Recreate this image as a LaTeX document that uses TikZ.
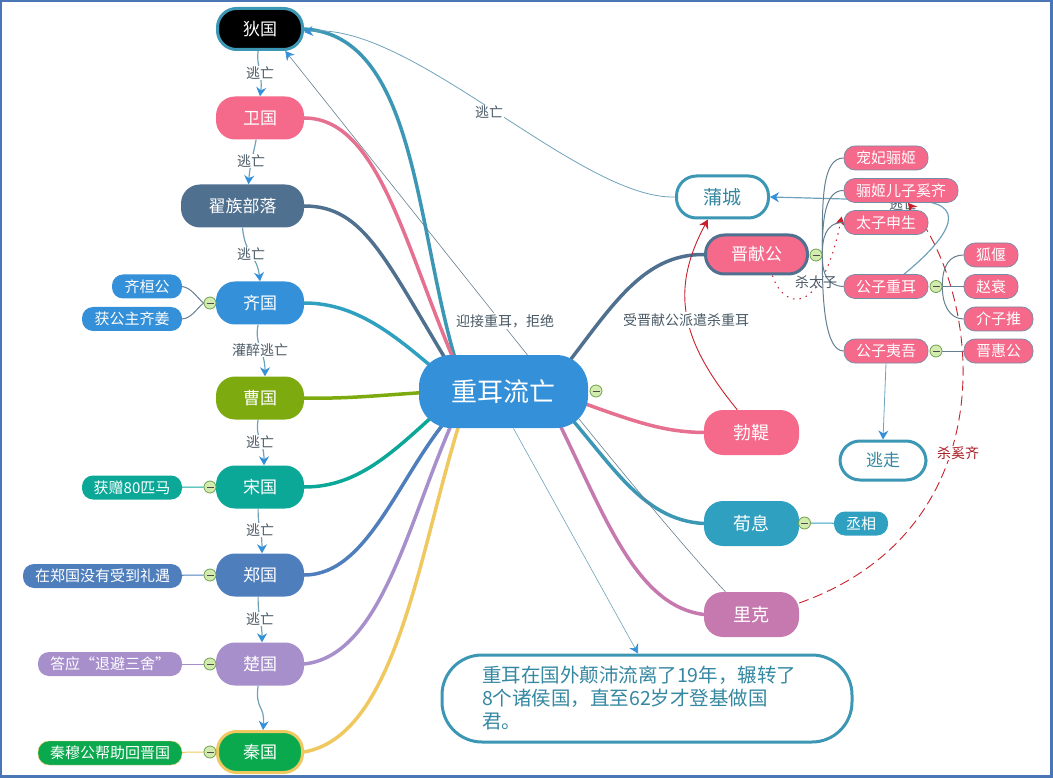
\documentclass[tikz,border=0pt]{standalone}
\usepackage{fontspec}
\setmainfont{Noto Sans CJK SC}
\usepackage{xcolor}
\usepackage{tikz}
\usetikzlibrary{arrows.meta, positioning, backgrounds}
\newcommand{\wcomma}{\symbol{"FF0C}}
\definecolor{framec}{HTML}{4A76B5}
\definecolor{pinkc}{HTML}{F5698A}
\definecolor{pinkl}{HTML}{E5708F}
\definecolor{slatec}{HTML}{50708F}
\definecolor{bluec}{HTML}{3490D8}
\definecolor{olivec}{HTML}{7DAB0F}
\definecolor{greenc}{HTML}{0BA898}
\definecolor{steelc}{HTML}{4E7EBB}
\definecolor{purplec}{HTML}{A78FCC}
\definecolor{leafc}{HTML}{0AA94E}
\definecolor{goldc}{HTML}{EFC85F}
\definecolor{tealc}{HTML}{30A0C0}
\definecolor{tealb}{HTML}{3B97B3}
\definecolor{mauvec}{HTML}{C679AE}
\definecolor{textc}{HTML}{4A5A66}
\definecolor{redc}{HTML}{C8202A}
\definecolor{linkc}{HTML}{6FA2BA}
\definecolor{twigc}{HTML}{667F90}
\definecolor{foldc}{HTML}{D4EBB0}
\definecolor{foldb}{HTML}{6FA050}

\begin{document}
\begin{tikzpicture}
  [
    x=1pt, y=-1pt,
    Pill/.style={rectangle, rounded corners=19pt, minimum width=88pt, minimum height=43pt, inner sep=0pt, text=white, font=\fontsize{17}{20}\selectfont},
    Big/.style={Pill, minimum width=95pt, minimum height=45pt, font=\fontsize{18}{21}\selectfont},
    Leaf/.style={rectangle, rounded corners=11pt, minimum height=24pt, inner sep=0pt, text=white, font=\fontsize{15}{18}\selectfont},
    Kid/.style={Leaf, fill=pinkc, draw=slatec!80, line width=0.7pt},
    Open/.style={rectangle, rounded corners=20pt, fill=white, draw=tealb, line width=3pt, inner sep=0pt, text=tealb!90!black},
    Fold/.style={circle, draw=foldb, fill=foldc, line width=0.8pt, minimum size=12pt, inner sep=0pt,
      path picture={\draw[black!70, line width=0.8pt] ([xshift=2.5pt]path picture bounding box.west) -- ([xshift=-2.5pt]path picture bounding box.east);}},
    Rel/.style={text=textc, inner sep=1pt, font=\fontsize{14}{16}\selectfont},
    Main/.style={line width=3.5pt, line cap=round},
    Twig/.style={line width=1pt},
    Link/.style={linkc, line width=0.8pt, -{Stealth[length=9pt, width=10pt, color=bluec]}},
    Route/.style={Link, line width=1.2pt},
    Redlink/.style={redc, line width=0.9pt, -{Stealth[length=9pt, width=10pt]}}
  ]
  \useasboundingbox (0,0) rectangle (1053,778);
  \draw[framec, line width=3pt] (0.5,0.5) rectangle (1051.5,776.5);

  % Nodes
  \node[Pill, minimum width=169pt, minimum height=73pt, rounded corners=32pt, fill=bluec, font=\fontsize{26}{30}\selectfont] (chonger) at (503.5,391.5) {重耳流亡};
  \node[Fold] (fc) at (596,391) {};

  \node[Pill, fill=black, draw=tealb, line width=3pt, minimum width=85pt, minimum height=41pt] (di) at (260,29) {狄国};
  \node[Pill, fill=pinkc] (wei) at (260,118) {卫国};
  \node[Pill, fill=slatec, minimum width=123pt] (zhai) at (242.5,206) {翟族部落};
  \node[Pill, fill=bluec] (qi) at (260,303) {齐国};
  \node[Pill, fill=olivec] (cao) at (260,398) {曹国};
  \node[Pill, fill=greenc] (song) at (260,487) {宋国};
  \node[Pill, fill=steelc] (zheng) at (260,575) {郑国};
  \node[Pill, fill=purplec] (chu) at (260,664) {楚国};
  \node[Pill, fill=leafc, draw=goldc, line width=3pt, minimum width=85pt, minimum height=41pt] (qin) at (260,752) {秦国};

  \node[Fold] (fqi) at (210,303) {};
  \node[Fold] (fsong) at (210,487) {};
  \node[Fold] (fzheng) at (210,575) {};
  \node[Fold] (fchu) at (210,664) {};
  \node[Fold] (fqin) at (210,752) {};

  \node[Leaf, fill=bluec, minimum width=70pt] (huan) at (147,286.5) {齐桓公};
  \node[Leaf, fill=bluec, minimum width=100pt] (jiang) at (132,319) {获公主齐姜};
  \node[Leaf, fill=greenc, minimum width=100pt] (ma) at (132,487.5) {获赠80匹马};
  \node[Leaf, fill=steelc, minimum width=159pt] (liyu) at (102.5,576) {在郑国没有受到礼遇};
  \node[Leaf, fill=purplec, minimum width=144pt] (tuibi) at (110,664) {答应“退避三舍”};
  \node[Leaf, fill=leafc, draw=goldc, minimum width=144pt] (huiguo) at (110,753) {秦穆公帮助回晋国};

  \node[Open, minimum width=92pt, minimum height=42pt, font=\fontsize{19}{22}\selectfont] (pu) at (722.5,197) {蒲城};
  \node[Pill, fill=pinkc, draw=slatec, line width=3pt, minimum width=102pt, minimum height=39pt] (jxg) at (756.5,254.5) {晋献公};
  \node[Fold] (fjxg) at (816,255) {};
  \node[Big, fill=pinkc] (bj) at (751.5,432.5) {勃鞮};
  \node[Big, fill=tealc] (xun) at (751.5,523.5) {荀息};
  \node[Fold] (fxun) at (804.5,523) {};
  \node[Big, fill=mauvec] (li) at (751.5,614.5) {里克};
  \node[Leaf, fill=tealc, minimum width=54pt] (cx) at (861,523.5) {丞相};

  \node[Kid, minimum width=84pt] (lj) at (886,158) {宠妃骊姬};
  \node[Kid, minimum width=114pt] (xq) at (901,190.5) {骊姬儿子奚齐};
  \node[Kid, minimum width=84pt] (sx) at (886,222.5) {太子申生};
  \node[Kid, minimum width=84pt] (ce) at (886,286.5) {公子重耳};
  \node[Kid, minimum width=84pt] (yw) at (886,351) {公子夷吾};
  \node[Fold] (fce) at (936,286.5) {};
  \node[Fold] (fyw) at (936,351) {};
  \node[Kid, minimum width=54pt] (hy) at (991,255) {狐偃};
  \node[Kid, minimum width=54pt] (zc) at (991,286.5) {赵衰};
  \node[Kid, minimum width=69pt] (jzt) at (998.5,319) {介子推};
  \node[Kid, minimum width=69pt] (jhg) at (998.5,351) {晋惠公};
  \node[Open, minimum width=86pt, minimum height=39pt, font=\fontsize{17}{20}\selectfont] (tz) at (883,460.5) {逃走};

  \node[Open, minimum width=410pt, minimum height=87pt, rounded corners=40pt, text width=330pt, align=left, font=\fontsize{19.5}{23}\selectfont] (note) at (647,698.5) {重耳在国外颠沛流离了19年\wcomma 辗转了\\8个诸侯国\wcomma 直至62岁才登基做国\\君。};

  % Labels
  \node[Rel, fill=white] (l1) at (260,73) {逃亡};
  \node[Rel, fill=white] (l2) at (251,161) {逃亡};
  \node[Rel, fill=white] (l3) at (251,254) {逃亡};
  \node[Rel, fill=white] (l4) at (260,350) {灌醉逃亡};
  \node[Rel, fill=white] (l5) at (260,442) {逃亡};
  \node[Rel, fill=white] (l6) at (260,530) {逃亡};
  \node[Rel, fill=white] (l7) at (260,619) {逃亡};
  \node[Rel, fill=white] (l8) at (489,112) {逃亡};
  \node[Rel, fill=white] (l9) at (505,321) {迎接重耳\wcomma 拒绝};
  \node[Rel, fill=white] (l10) at (686,320) {受晋献公派遣杀重耳};
  \node[Rel] (l11) at (816,282) {杀太子};
  \node[Rel, fill=white, text=redc!85!black] (l12) at (958,453) {杀奚齐};

  % Connectors
  \begin{scope}[on background layer]
    \node[Rel] (l13) at (903,204) {逃亡};
    \coordinate (bend) at (920,201);

    \draw[Main, tealb] (di.east) .. controls (420,35) and (415,240) .. ([shift={(-43,-16)}]chonger.center);
    \draw[Main, pinkl] (wei.east) .. controls (380,118) and (405,250) .. ([shift={(-43,-16)}]chonger.center);
    \draw[Main, slatec] (zhai.east) .. controls (365,206) and (385,260) .. ([shift={(-48,-16)}]chonger.center);
    \draw[Main, tealc] (qi.east) .. controls (360,303) and (400,340) .. ([shift={(-58,-13)}]chonger.center);
    \draw[Main, olivec] (cao.east) .. controls (350,399) and (380,395) .. ([shift={(-63,0)}]chonger.center);
    \draw[Main, greenc] (song.east) .. controls (360,487) and (395,450) .. ([shift={(-58,13)}]chonger.center);
    \draw[Main, steelc] (zheng.east) .. controls (370,575) and (400,470) .. ([shift={(-48,18)}]chonger.center);
    \draw[Main, purplec] (chu.east) .. controls (385,655) and (410,510) .. ([shift={(-43,13)}]chonger.center);
    \draw[Main, goldc] (qin.east) .. controls (400,735) and (420,540) .. ([shift={(-38,13)}]chonger.center);
    \draw[Main, slatec] (jxg.west) .. controls (640,254) and (610,310) .. ([shift={(51,-11)}]chonger.center);
    \draw[Main, pinkl] (bj.west) .. controls (660,432) and (630,420) .. ([shift={(56,3)}]chonger.center);
    \draw[Main, tealb] (xun.west) .. controls (640,520) and (610,460) .. ([shift={(51,8)}]chonger.center);
    \draw[Main, mauvec] (li.west) .. controls (630,605) and (600,500) .. ([shift={(41,3)}]chonger.center);

    % countries along the route
    \draw[Route] (di.-95) .. controls (256,65) and (263,75) .. (wei.north);
    \draw[Route] (wei.-100) .. controls (252,160) and (250,165) .. ([xshift=6pt]zhai.north);
    \draw[Route] (zhai.south) .. controls (245,255) and (257,255) .. (qi.north);
    \draw[Route] (qi.-95) .. controls (254,345) and (265,350) .. ([xshift=5pt]cao.north);
    \draw[Route] (cao.-95) .. controls (255,440) and (264,440) .. ([xshift=4pt]song.north);
    \draw[Route] (song.-95) .. controls (258,530) and (262,530) .. ([xshift=2pt]zheng.north);
    \draw[Route] (zheng.-95) .. controls (258,620) and (262,620) .. ([xshift=2pt]chu.north);
    \draw[Route] (chu.-95) .. controls (255,710) and (265,705) .. ([xshift=3pt]qin.north);

    % thin relations
    \draw[Link] (pu.west) .. controls (580,200) and (410,20) .. ([yshift=-3pt]di.east);
    \draw[Link, line width=0.6pt, twigc] (li.139) .. controls (640,500) and (480,295) .. (di.-41);
    \draw[Link, line width=0.6pt] ([shift={(10,37)}]chonger.center) -- ([xshift=-9pt]note.north);
    \draw[Redlink] (bj.122) .. controls (680,340) and (670,290) .. (pu.-123);
    \draw[Redlink, dash pattern=on 10pt off 5pt] (li.east |- 0,603) .. controls (1005,530) and (985,300) .. ([xshift=7pt]xq.south);
    \draw[Redlink, line width=1pt, dash pattern=on 1.5pt off 5pt] (jxg.-53) .. controls (785,312) and (822,315) .. ([shift={(-2,-6)}]sx.west);
    \draw[Route] (ce.north |- 0,275) ++(17,0) .. controls (940,245) and (975,205) .. (bend) -- (pu.east);
    \draw[Link] (yw.south) -- (tz.north);

    % leaves
    \draw[Twig, twigc] (fqi.west) .. controls (197,298) and (192,288) .. (huan.east);
    \draw[Twig, twigc] (fqi.west) .. controls (197,308) and (192,318) .. (jiang.east);
    \draw[Twig, greenc] (fsong) -- (ma);
    \draw[Twig, steelc] (fzheng) -- (liyu);
    \draw[Twig, purplec] (fchu) -- (tuibi);
    \draw[Twig, goldc] (fqin) -- (huiguo);
    \draw[Twig, tealc] (fxun) -- (cx);
    \draw[Twig, twigc] (fjxg.east) .. controls (822,200) and (822,158) .. (lj.west);
    \draw[Twig, twigc] (fjxg.east) .. controls (822,220) and (825,190) .. (xq.west);
    \draw[Twig, twigc] (fjxg.east) .. controls (822,240) and (825,222) .. (sx.west);
    \draw[Twig, twigc] (fjxg.east) .. controls (822,275) and (828,286) .. (ce.west);
    \draw[Twig, twigc] (fjxg.east) .. controls (822,300) and (825,351) .. (yw.west);
    \draw[Twig, twigc] (fce.east) .. controls (942,265) and (950,255) .. (hy.west);
    \draw[Twig, twigc] (fce) -- (zc);
    \draw[Twig, twigc] (fce.east) .. controls (942,305) and (950,319) .. (jzt.west);
    \draw[Twig, twigc] (fyw) -- (jhg);
  \end{scope}
\end{tikzpicture}
\end{document}
